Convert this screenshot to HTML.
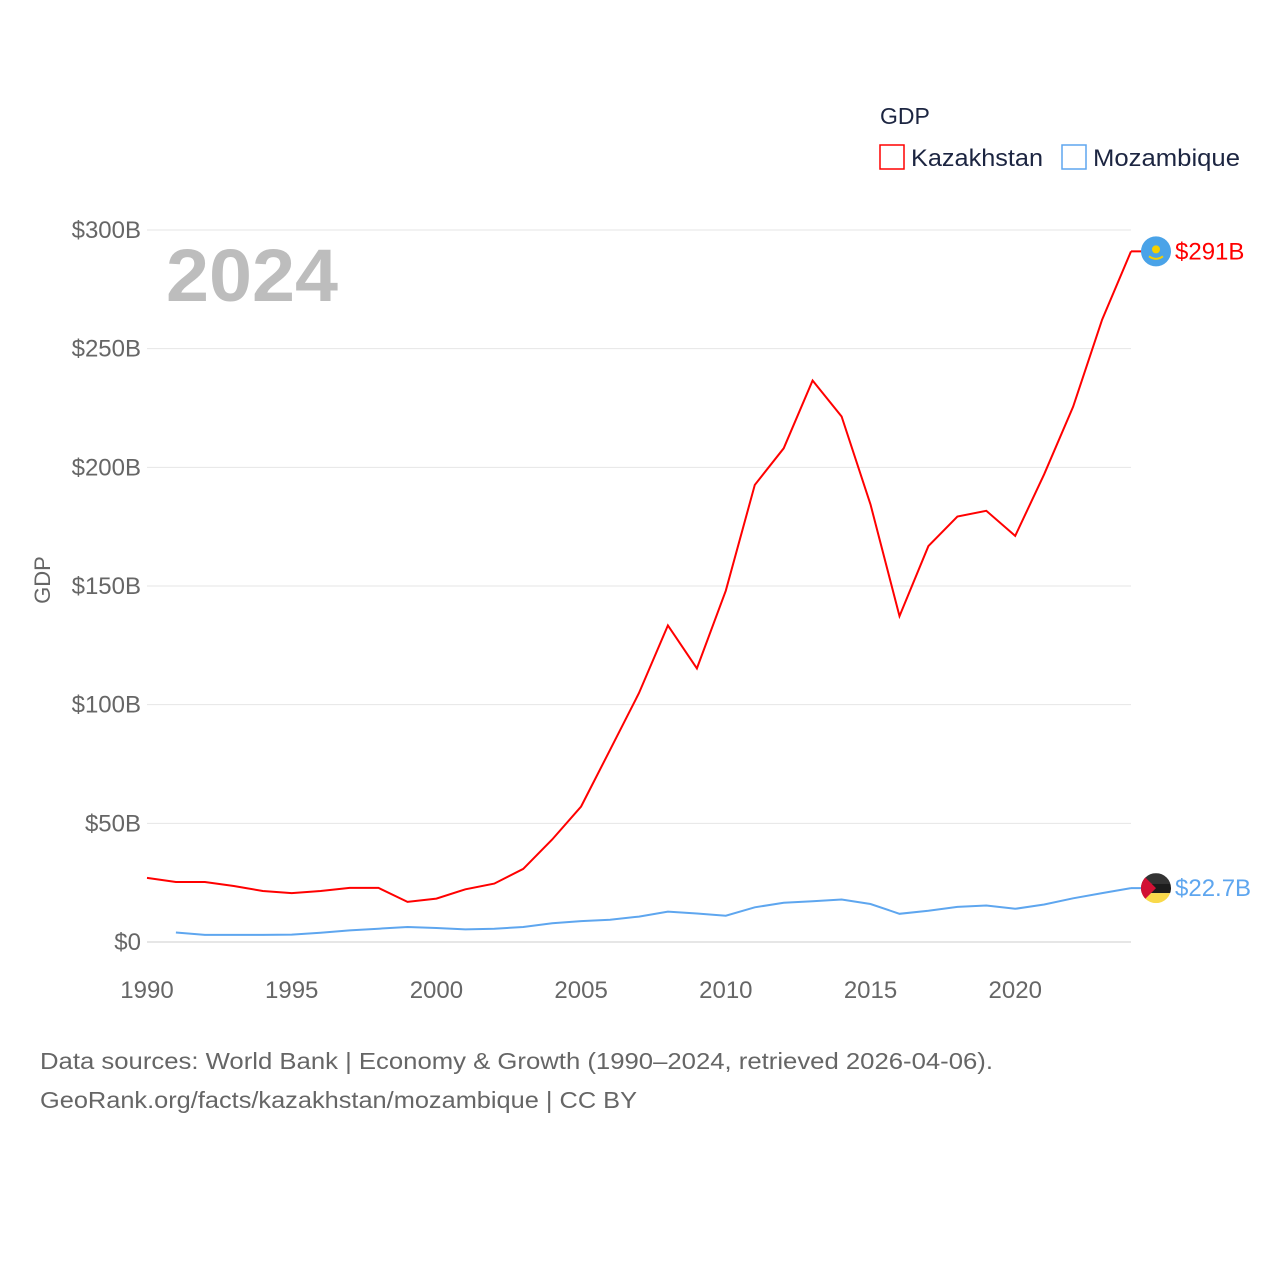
<!DOCTYPE html>
<html><head><meta charset="utf-8"><style>
html,body{margin:0;padding:0;background:#fff;width:1280px;height:1280px;overflow:hidden}
svg{font-family:"Liberation Sans",sans-serif}
</style></head><body>
<svg id="chart" width="1280" height="1280">
<g id="grid"></g>
<g id="yticks"></g>
<g id="xticks"></g>
<text x="166" y="301" font-size="74" font-weight="bold" fill="#bdbdbd" textLength="172" lengthAdjust="spacingAndGlyphs">2024</text>
<text x="50" y="580" font-size="22" fill="#666" transform="rotate(-90 50 580)" text-anchor="middle">GDP</text>
<g id="series"></g>
<text x="880" y="124" font-size="23" fill="#1c2541">GDP</text>
<g>
<rect x="880" y="145" width="24" height="24" fill="none" stroke="#ff0000" stroke-width="1.5"/>
<text x="911" y="166" font-size="24" fill="#1c2541" textLength="132" lengthAdjust="spacingAndGlyphs">Kazakhstan</text></g>
<g>
<rect x="1062" y="145" width="24" height="24" fill="none" stroke="#5ea6ef" stroke-width="1.5"/>
<text x="1093" y="166" font-size="24" fill="#1c2541" textLength="147" lengthAdjust="spacingAndGlyphs">Mozambique</text></g>
<text x="40" y="1069" font-size="23" fill="#666" textLength="953" lengthAdjust="spacingAndGlyphs">Data sources: World Bank | Economy &amp; Growth (1990–2024, retrieved 2026-04-06).</text>
<text x="40" y="1108" font-size="23" fill="#666" textLength="597" lengthAdjust="spacingAndGlyphs">GeoRank.org/facts/kazakhstan/mozambique | CC BY</text>
</svg>
<script>
const years=[1990,1991,1992,1993,1994,1995,1996,1997,1998,1999,2000,2001,2002,2003,2004,2005,2006,2007,2008,2009,2010,2011,2012,2013,2014,2015,2016,2017,2018,2019,2020,2021,2022,2023,2024];
const kazakhstan=[27,25.3,25.3,23.6,21.5,20.6,21.5,22.8,22.8,16.9,18.3,22.2,24.6,30.8,43.2,57.1,81,104.9,133.4,115.3,148,192.6,208,236.6,221.4,184.4,137.3,166.8,179.3,181.7,171.1,197.1,225.5,262.2,291];
const mozambique=[null,4.0,3.0,3.0,3.0,3.1,3.9,4.9,5.6,6.3,5.9,5.3,5.6,6.3,7.9,8.8,9.4,10.7,12.8,12.0,11.1,14.6,16.5,17.2,17.9,16.0,11.9,13.2,14.8,15.4,14.0,15.8,18.4,20.6,22.7];
const yTicks=[0,50,100,150,200,250,300];
const yTickLabels=["$0","$50B","$100B","$150B","$200B","$250B","$300B"];
const xTicks=[1990,1995,2000,2005,2010,2015,2020];
const endLabels=["$291B","$22.7B"];
const NS="http://www.w3.org/2000/svg";
const X=y=>147+(y-1990)*(1131-147)/34;
const Y=v=>942-v*(942-230)/300;
function mk(t,a,p){const e=document.createElementNS(NS,t);for(const k in a)e.setAttribute(k,a[k]);p.appendChild(e);return e;}
const grid=document.getElementById('grid'),yt=document.getElementById('yticks'),xt=document.getElementById('xticks'),se=document.getElementById('series');
yTicks.forEach((v,i)=>{
 const l=mk('line',{x1:147,x2:1131,y1:Y(v),y2:Y(v),stroke:i==0?'#ccc':'#e6e6e6','stroke-width':1},grid);
 
 
 const t=mk('text',{x:141,y:Y(v)+8,'text-anchor':'end','font-size':24,fill:'#666'},yt);
 t.textContent=yTickLabels[i];
 
 
});
xTicks.forEach(y=>{
 const t=mk('text',{x:X(y),y:998,'text-anchor':'middle','font-size':24,fill:'#666'},xt);
 t.textContent=y;
 
 
});
function line(vals,color,name,label,flag){
 let d='';vals.forEach((v,i)=>{if(v==null)return;d+=(d?'L':'M')+X(years[i]).toFixed(1)+' '+Y(v).toFixed(1);});
 const p=mk('path',{d:d,fill:'none',stroke:color,'stroke-width':2},se);
 
 
 const lv=vals[vals.length-1],ly=Y(lv);
 mk('line',{x1:1131,x2:1142,y1:ly,y2:ly,stroke:color,'stroke-width':2},se);
 const g=mk('g',{},se);
 
 
 flag(g,1156,ly);
 const t=mk('text',{x:1175,y:ly+8,'font-size':24,fill:color},se);
 t.textContent=label;
 
 
}
line(kazakhstan,'#ff0000','kazakhstan',endLabels[0],(g,x,y)=>{
 mk('circle',{cx:x,cy:y,r:15,fill:'#4aa3e8'},g);
 mk('circle',{cx:x,cy:y-2,r:4,fill:'#f5d000'},g);
 mk('path',{d:`M${x-7} ${y+5}Q${x} ${y+10} ${x+7} ${y+5}`,stroke:'#f5d000','stroke-width':2,fill:'none'},g);
});
line(mozambique,'#5ea6ef','mozambique',endLabels[1],(g,x,y)=>{
 const c=mk('clipPath',{id:'mz'},g);mk('circle',{cx:x,cy:y,r:15},c);
 const h=mk('g',{'clip-path':'url(#mz)'},g);
 mk('rect',{x:x-15,y:y-15,width:30,height:10,fill:'#333'},h);
 mk('rect',{x:x-15,y:y-5,width:30,height:10,fill:'#1c1c1c'},h);
 mk('rect',{x:x-15,y:y+5,width:30,height:10,fill:'#f9d94a'},h);
 mk('path',{d:`M${x-15} ${y-15}L${x} ${y}L${x-15} ${y+15}Z`,fill:'#d21034'},h);
});
</script>
</body></html>
